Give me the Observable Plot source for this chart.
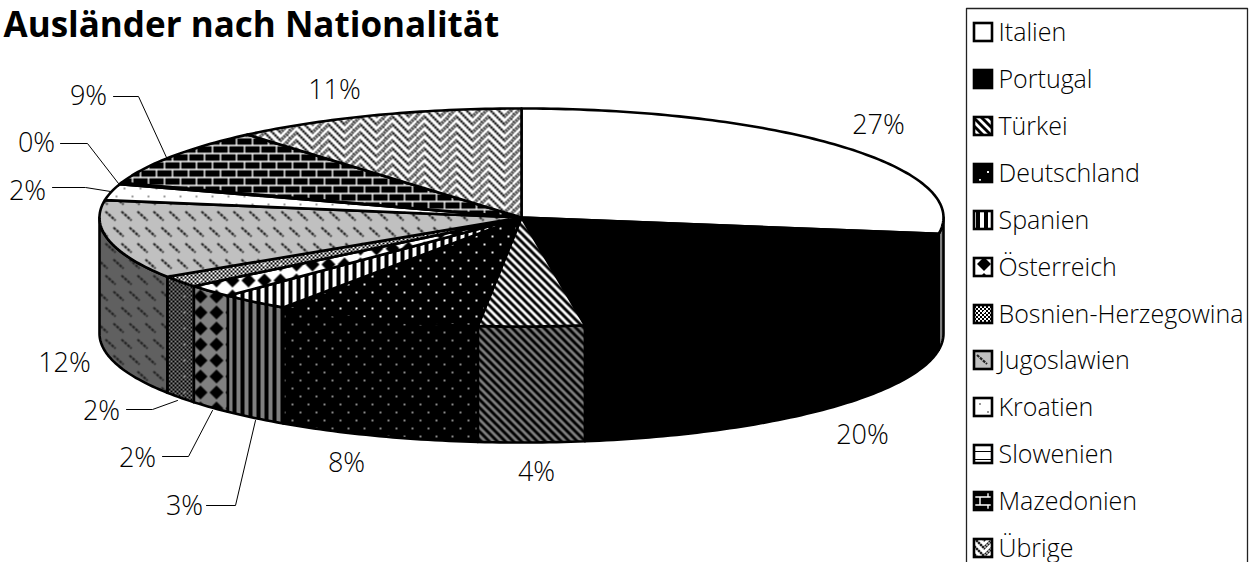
<!DOCTYPE html>
<html><head><meta charset="utf-8">
<style>html,body{margin:0;padding:0;background:#fff;overflow:hidden}svg{display:block}</style>
<script src="https://cdn.jsdelivr.net/npm/d3@7"></script>
<script src="https://cdn.jsdelivr.net/npm/@observablehq/plot@0.6"></script>
</head><body><div id="chart"></div>
<script>
const categories = ["Italien","Portugal","Türkei","Deutschland","Spanien","Österreich","Bosnien-Herzegowina","Jugoslawien","Kroatien","Slowenien","Mazedonien","Übrige"];
const shares = [27.4,20.2,4.05,7.9,2.7,1.9,1.7,11.7,2.4,0.2,8.6,11.25];
const labels = ["27%","20%","4%","8%","3%","2%","2%","12%","2%","0%","9%","11%"];
const title = "Ausländer nach Nationalität";

// layout
const W = 1254, H = 562, FONT = "'Open Sans'";
const C = {x:521, y:217, rx:422, ry:109, depth:116};
const labelPos = [[878,125],[862,435],[536,472],[346,463],[184,506],[137,458],[101,411],[64,363],[27,191],[36,143],[88,96],[334,90]];
const leaders = {
  4:[[206,505],[235,505],[255,420]],
  5:[[162,456],[188,456],[212,410]],
  6:[[126,409],[152,409],[177,400]],
  8:[[52,187],[85,187],[110,191]],
  9:[[60,143],[87,143],[118,183]],
  10:[[113,96],[138,96],[166,157]]
};
const legendY = [32,79,126,173,220,267,314,360,407,454,501,548];

// pattern tiles; each one takes a tone set
const checker = (a,b,n=16) => { let s=`<rect width="${n}" height="${n}" fill="${a}"/>`; for(let i=0;i<n;i+=2)for(let j=0;j<n;j+=2) if((i+j)%4==0) s+=`<rect x="${i}" y="${j}" width="2" height="2" fill="${b}"/>`; return s; };
const tiles = [
  {w:8,h:8,f:t=>`<rect width="8" height="8" fill="${t.w}"/>`},
  {w:8,h:8,f:t=>`<rect width="8" height="8" fill="#000"/>`},
  {w:8,h:8,f:t=>`<rect width="8" height="8" fill="${t.w}"/><path d="M-2 -2L10 10M-6 2L6 14M2 -6L14 6" stroke="#000" stroke-width="2.9"/>`},
  {w:16,h:16,f:t=>`<rect width="16" height="16" fill="#000"/><rect x="3" y="3" width="2" height="2" fill="${t.d}"/><rect x="11" y="11" width="2" height="2" fill="${t.d}"/>`},
  {w:8,h:8,f:t=>`<rect width="8" height="8" fill="${t.w}"/><rect x="0" width="4" height="8" fill="#000"/>`},
  {w:16,h:16,f:t=>`<rect width="16" height="16" fill="${t.w}"/><path d="M8 1L15 8L8 15L1 8Z" fill="#000"/>`},
  {w:16,h:16,f:t=>checker(t.m,"#000")+`<rect x="7" y="7" width="2" height="2" fill="${t.d}"/>`},
  {w:16,h:32,f:t=>`<rect width="16" height="32" fill="${t.g}"/><path d="M1 3L11 12M9 19L19 28M-7 19L3 28" stroke="#222" stroke-width="2.2" stroke-dasharray="3 1"/>`},
  {w:16,h:16,f:t=>`<rect width="16" height="16" fill="${t.w}"/><rect x="3" y="3" width="2" height="2" fill="#999"/><rect x="11" y="11" width="2" height="2" fill="#999"/>`},
  {w:8,h:8,f:t=>`<rect width="8" height="8" fill="${t.w}"/><rect y="3" width="8" height="1" fill="#000"/>`},
  {w:16,h:16,f:t=>`<rect width="16" height="16" fill="#000"/><path d="M0 1H16M0 9H16M4 1V9M12 9V17M12 -7V1" stroke="${t.w}" stroke-width="1.4" fill="none"/>`},
  {w:32,h:16,f:t=>checker("#999","#222",32).replace('width="32" height="32"','width="32" height="16"')+`<path d="M0 8L8 0L16 8M0 16L8 8L16 16M0 24L8 16L16 24M0 0L8 -8L16 0M16 0L24 8L32 0M16 8L24 16L32 8M16 -8L24 0L32 -8M16 16L24 24L32 16" stroke="#fff" stroke-width="2.8" fill="none"/>`}
];
const tonesTop = {w:"#fff",m:"#fff",d:"#eee",g:"#c0c0c0"};
const tonesSide = {w:"#808080",m:"#808080",d:"#888",g:"#606060"};
const defs = () => {
  const d = document.createElementNS("http://www.w3.org/2000/svg","defs");
  d.innerHTML = tiles.map((t,i)=>
    `<pattern id="t${i}" patternUnits="userSpaceOnUse" width="${t.w}" height="${t.h}">${t.f(tonesTop)}</pattern>`+
    `<pattern id="s${i}" patternUnits="userSpaceOnUse" width="${t.w}" height="${t.h}">${t.f(tonesSide)}</pattern>`).join("");
  return d;
};

// slices from the shares
const total = d3.sum(shares);
const ends = d3.cumsum(shares).map(v=>v/total*360);
const starts = [0,...ends.slice(0,-1)];
const pt = (deg,dz=0) => { const a=deg*Math.PI/180; return {x:C.x+C.rx*Math.sin(a), y:C.y-C.ry*Math.cos(a)+dz}; };
const arc = (a0,a1,dz=0) => { const n=Math.max(1,Math.ceil(Math.abs(a1-a0))); return d3.range(n+1).map(i=>pt(a0+(a1-a0)*i/n,dz)); };
const base = {x:"x",y:"y",curve:"linear-closed",stroke:"#000",strokeWidth:2.6,strokeLinejoin:"round"};

const marks = [defs];
// side walls of the front half
categories.forEach((c,i)=>{
  const a0=Math.max(starts[i],90), a1=Math.min(ends[i],270);
  if(a1>a0) marks.push(Plot.line([...arc(a0,a1),...arc(a1,a0,C.depth)],{...base,fill:`url(#s${i})`}));
});
// top faces
categories.forEach((c,i)=>{
  marks.push(Plot.line([{x:C.x,y:C.y},...arc(starts[i],ends[i])],{...base,fill:`url(#t${i})`}));
});
// leaders
Object.values(leaders).forEach(l=>marks.push(Plot.line(l.map(([x,y])=>({x,y})),{x:"x",y:"y",stroke:"#000",strokeWidth:1})));
// labels
marks.push(Plot.text(labels.map((t,i)=>({t,x:labelPos[i][0],y:labelPos[i][1]})),{x:"x",y:"y",text:"t",fontSize:27,fontWeight:300,fontFamily:FONT,fill:"#000",textAnchor:"middle",lineAnchor:"middle"}));
// title
marks.push(Plot.text([title],{x:()=>3,y:()=>25,text:d=>d,fontSize:35,fontWeight:700,fontFamily:FONT,fill:"#000",textAnchor:"start",lineAnchor:"middle"}));
// legend
marks.push(Plot.line([{x:966,y:600},{x:966,y:8},{x:1247,y:8},{x:1247,y:600}],{x:"x",y:"y",stroke:"#222",strokeWidth:1.3}));
categories.forEach((c,i)=>{
  marks.push(Plot.rect([c],{x1:()=>974,x2:()=>992,y1:()=>legendY[i]-9,y2:()=>legendY[i]+9,fill:`url(#t${i})`,stroke:"#000",strokeWidth:2.6}));
});
marks.push(Plot.text(categories.map((c,i)=>({c,y:legendY[i]})),{x:()=>998,y:"y",text:"c",fontSize:25,fontWeight:300,fontFamily:FONT,fill:"#000",textAnchor:"start",lineAnchor:"middle"}));

const chart = Plot.plot({
  width:W,height:H,margin:0,
  x:{domain:[0,W],range:[0,W],axis:null},
  y:{domain:[0,H],range:[0,H],axis:null},
  style:{background:"#fff",overflow:"hidden"},
  marks
});
document.getElementById("chart").append(chart);
</script></body></html>
